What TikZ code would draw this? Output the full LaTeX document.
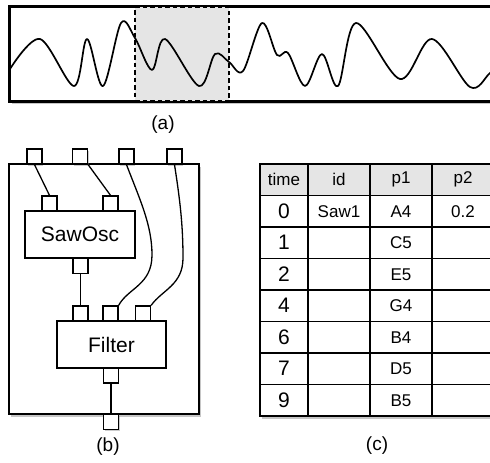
\documentclass[tikz,border=0pt]{standalone}
\usepackage{fontspec}
\setmainfont{Liberation Sans}
\usetikzlibrary{shadows}
\tikzset{
    panel/.style={draw, line width=1.6pt, fill=white, inner sep=0pt,
                  drop shadow={shadow xshift=1.5pt, shadow yshift=-2.5pt, opacity=0.45}},
    port/.style={draw, line width=1.3pt, fill=white, minimum size=15pt, inner sep=0pt},
    outport/.style={port,
                    drop shadow={shadow xshift=1.2pt, shadow yshift=-1.5pt, opacity=0.4}},
    block/.style={draw, line width=1.3pt, fill=white, inner sep=0pt,
                  font=\fontsize{21}{25}\selectfont},
    wire/.style={line width=1.3pt},
    wave/.style={line width=1.7pt, line join=round},
    cell/.style={draw, line width=1.3pt, minimum height=31.5pt, inner sep=0pt,
                 font=\fontsize{17}{20}\selectfont},
    head/.style={cell, fill=black!10},
    caption/.style={font=\fontsize{19}{22}\selectfont},
}

\begin{document}
\begin{tikzpicture}[x=1pt, y=-1pt]
    \useasboundingbox (0,0) rectangle (490,463);

    % (a) signal with highlighted window
    \node[panel, minimum width=490pt, minimum height=94pt] (signal) at (255,54) {};
    \node[fill=black!10, draw, dash pattern=on 4.5pt off 3pt, line width=1.4pt,
          inner sep=0pt, minimum width=94pt, minimum height=94pt] (window) at (182,54) {};
    \begin{scope}
        \clip (signal.north west) rectangle (signal.south east);
        \draw[wave] plot[smooth, tension=0.55] coordinates {
            (10,69) (40,39) (74,86) (87,39) (103,86) (121,23) (135,38)
            (152,70) (165,39) (199,86) (215,54) (229,62) (243,71)
            (262,23) (277,55) (288,53) (305,86) (322,54) (338,86)
            (356,23) (400,79) (432,39) (470,87) (490,73) (505,60)};
    \end{scope}
    \draw[line width=1.6pt] (signal.north west) rectangle (signal.south east);
    \node[caption] (capa) at (163,125) {(a)};

    % (b) patch
    \node[panel, minimum width=190pt, minimum height=250pt] (patch) at (104,289) {};
    \node[outport] (pin1) at (34.5,156.5) {};
    \node[outport] (pin2) at (80,156.5) {};
    \node[outport] (pin3) at (126.5,156.5) {};
    \node[outport] (pin4) at (174.5,156.5) {};
    \node[outport] (pout) at (111,422) {};

    \node[block, minimum width=110pt, minimum height=47pt] (saw) at (80,234.5) {SawOsc};
    \node[port] (sin1) at (49.5,203.5) {};
    \node[port] (sin2) at (110.5,203.5) {};
    \node[port] (sout) at (80.5,266) {};

    \node[block, minimum width=109pt, minimum height=47pt] (filter) at (111.5,344.5) {Filter};
    \node[port] (fin1) at (80.5,313.5) {};
    \node[port] (fin2) at (110.5,313.5) {};
    \node[port] (fin3) at (143,313.5) {};
    \node[port] (fout) at (111,375.5) {};

    \draw[wire] (pin1.south) -- (sin1.north);
    \draw[wire] (pin2.south east) -- (sin2.north);
    \draw[wire] (pin3.south) .. controls (140,200) and (152,225) .. (152,255)
        .. controls (152,285) and (128,288) .. (fin2.north east);
    \draw[wire] (pin4.south) .. controls (180,200) and (183,225) .. (183,258)
        .. controls (183,285) and (162,290) .. (fin3.north east);
    \draw[wire] (sout) -- (fin1);
    \draw[wire] (fout) -- (pout);
    \node[caption] (capb) at (108,447) {(b)};

    % (c) event table
    \node[panel, minimum width=234pt, minimum height=252pt] (events) at (377,290) {};
    \node[head, minimum width=48pt] (htime) at (284,179.75) {time};
    \node[head, minimum width=62pt] (hid) at (339,179.75) {id};
    \node[head, minimum width=62pt] (hpa) at (401,179.75) {p1};
    \node[head, minimum width=62pt] (hpb) at (463,179.75) {p2};
    \foreach \tm/\idv/\pa/\pb [count=\r] in
        {0/Saw1/A4/0.2, 1/{}/C5/{}, 2/{}/E5/{}, 4/{}/G4/{},
         6/{}/B4/{}, 7/{}/D5/{}, 9/{}/B5/{}} {
        \pgfmathsetmacro{\cy}{179.75+31.5*\r}
        \node[cell, minimum width=48pt, font=\fontsize{21}{24}\selectfont]
            (t\r) at (284,\cy) {\tm};
        \node[cell, minimum width=62pt] (i\r) at (339,\cy) {\idv};
        \node[cell, minimum width=62pt] (a\r) at (401,\cy) {\pa};
        \node[cell, minimum width=62pt] (b\r) at (463,\cy) {\pb};
    }
    \node[caption] (capc) at (377,446) {(c)};
\end{tikzpicture}
\end{document}
